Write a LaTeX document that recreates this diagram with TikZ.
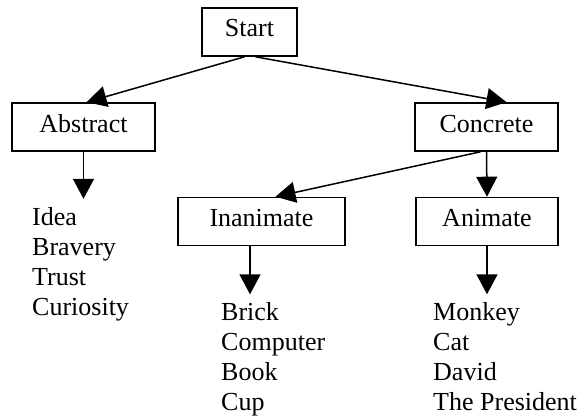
\documentclass[tikz,border=0pt]{standalone}
\usepackage{fontspec}
\setmainfont{Liberation Serif}
\usetikzlibrary{arrows.meta,calc}

\begin{document}
\begin{tikzpicture}[x=1pt,y=-1pt,
  every node/.style={font={\fontsize{26}{30}\selectfont}},
  box/.style={draw, line width=1.6pt, minimum height=48pt, inner sep=0pt,
              text height=17pt, text depth=7pt},
  % a multi-line node sits on the baseline of its last line
  itemlist/.style={align=left, inner sep=0pt, anchor=base west},
  arr/.style={line width=1.5pt, -{Triangle[width=21pt,length=20pt]}}]
  \useasboundingbox[fill=white] (0,0) rectangle (583,417);

  % category boxes
  \node[box, minimum width=95pt]  (start)     at (249.5,32)  {Start};
  \node[box, minimum width=143pt] (abstract)  at (83.5,127)  {Abstract};
  \node[box, minimum width=143pt] (concrete)  at (486.5,127) {Concrete};
  \node[box, minimum width=167pt] (inanimate) at (261.5,221.5) {Inanimate};
  \node[box, minimum width=142pt] (animate)   at (487,221.5) {Animate};

  % example lists
  \node[itemlist] (abslist) at (32,315)  {Idea\\Bravery\\Trust\\Curiosity};
  \node[itemlist] (inalist) at (221,410) {Brick\\Computer\\Book\\Cup};
  \node[itemlist] (anilist) at (433,410) {Monkey\\Cat\\David\\The President};

  % arrow ends above the lists
  \coordinate (abstip) at ($(abstract.south)+(0,47)$);
  \coordinate (inatip) at ($(inanimate.south)+(-11.5,48)$);
  \coordinate (anitip) at ($(animate.south)+(0,48)$);

  % connectors
  \draw[arr] ($(start.south)+(-5,0)$) -- ($(abstract.north)+(3,0)$);
  \draw[arr] ($(start.south)+(6,0)$) -- ($(concrete.north)+(20,0)$);
  \draw[arr] ($(concrete.south)+(-6,0)$) -- ($(inanimate.north)+(14,0)$);
  \draw[arr] (concrete.south) -- (animate.north);
  \draw[arr] (abstract.south) -- (abstip);
  \draw[arr] ($(inanimate.south)+(-11.5,0)$) -- (inatip);
  \draw[arr] (animate.south) -- (anitip);
\end{tikzpicture}
\end{document}
